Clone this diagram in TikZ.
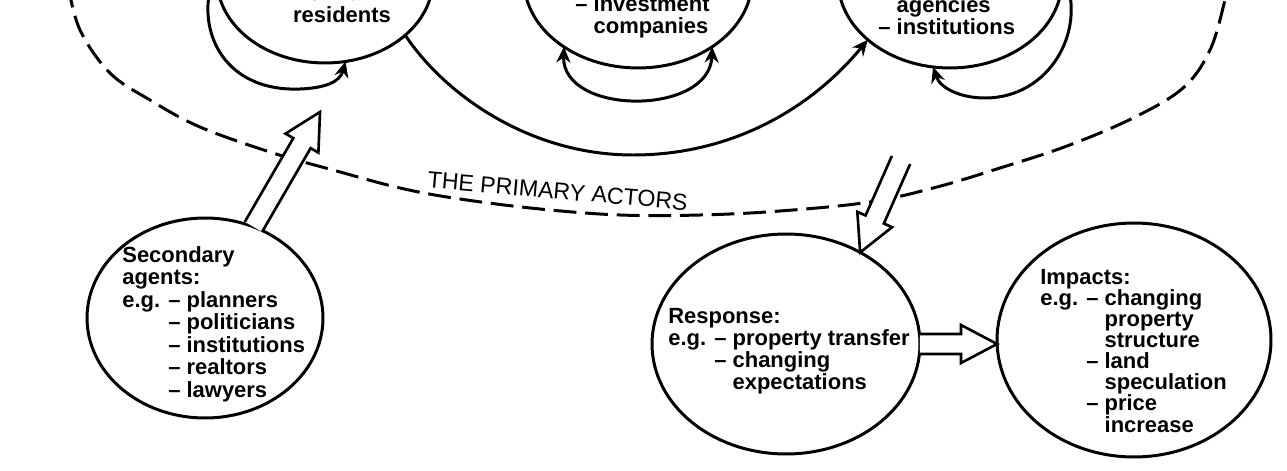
\documentclass[tikz,border=0pt]{standalone}
\usepackage{fontspec}
\setmainfont{Liberation Sans}
\usetikzlibrary{shapes.geometric,arrows.meta,calc}

\newcommand{\hollowarrow}[2]{%
    \coordinate (hb) at ($(#2)!0.72cm!(#1)$);
    \filldraw[hollowarr] ($(#1)!0.2cm!90:(#2)$) -- ($(hb)!0.2cm!90:(#2)$)
        -- ($(hb)!0.38cm!90:(#2)$) -- (#2) -- ($(hb)!0.38cm!-90:(#2)$)
        -- ($(hb)!0.2cm!-90:(#2)$) -- ($(#1)!0.2cm!-90:(#2)$);
}

\begin{document}
\begin{tikzpicture}[x=0.02cm, y=-0.02cm,
            actor/.style={draw, ellipse, line width=1.7pt, inner sep=0, outer sep=0},
            txt/.style={inner sep=0, align=left,
                font=\fontsize{12.5pt}{#1}\selectfont\bfseries},
            txt/.default=12.5pt,
            selfloop/.style={line width=1.7pt},
            hollowarr/.style={line width=1.5pt, fill=white, line join=miter},
            >={Stealth[length=9pt,width=8pt]}]
        \useasboundingbox (0,0) rectangle (1287,470);
        \clip (0,0) rectangle (1287,470);

        \node[actor, minimum width=4.32cm, minimum height=3.36cm] (res) at (325,-21) {};
        \node[actor, minimum width=4.56cm, minimum height=3.52cm] (inv) at (638,-20) {};
        \node[actor, minimum width=4.48cm, minimum height=3.52cm] (inst) at (950,-20) {};
        \node[txt, align=center, anchor=south] (res-t) at (342,23) {non-farm\\residents};
        \node[txt, anchor=south west] (inv-t) at (575,38) {– investment\\\phantom{– }companies};
        \node[txt, anchor=south west] (inst-t) at (878,35) {\phantom{– }agencies\\– institutions};

        \draw[selfloop, <->] (res.173) .. controls (194,25) and (220,92) .. (300,89)
            .. controls (325,88) and (340,82) .. (res.-76);
        \draw[selfloop, <->] (inv.222) .. controls (562,116) and (710,116) .. (inv.318);
        \draw[selfloop, <->] (inst.6) .. controls (1087,30) and (1050,98) .. (985,98)
            .. controls (960,98) and (940,88) .. (inst.259);
        \draw[selfloop, ->] (res.-35) .. controls (445,95) and (530,155) .. (633,155)
            .. controls (730,155) and (810,110) .. (inst.216);

        \draw[line width=1.7pt, dash pattern=on 13pt off 5pt] plot[smooth, tension=0.6]
            coordinates {(68,-15) (80,30) (110,73) (150,100) (200,127) (273,153) (333,170)
            (400,188) (460,199) (540,209) (620,215) (700,215) (780,211) (870,202) (937,187)
            (1000,168) (1067,146) (1133,118) (1183,88) (1210,50) (1225,0) (1228,-15)};
        \node[inner sep=0, font=\fontsize{13.2pt}{13.2pt}\selectfont, rotate=-5, anchor=base]
            (prim) at (557,199) {THE PRIMARY ACTORS};

        \node[actor, minimum width=4.72cm, minimum height=4cm] (sec) at (205,318) {};
        \node[actor, minimum width=5.36cm, minimum height=4.4cm] (resp) at (786,344) {};
        \node[actor, minimum width=5.48cm, minimum height=4.68cm] (imp) at (1134,340) {};

        \node[txt=12.8pt, anchor=north west] (sec-t) at (122,246)
            {Secondary\\agents:\\e.g. – planners\\\phantom{e.g. }– politicians\\
             \phantom{e.g. }– institutions\\\phantom{e.g. }– realtors\\\phantom{e.g. }– lawyers};
        \node[txt, anchor=north west] (resp-t) at (668,308)
            {Response:\\e.g. – property transfer\\\phantom{e.g. }– changing\\
             \phantom{e.g. – }expectations};
        \node[txt=12pt, anchor=north west] (imp-t) at (1040,269)
            {Impacts:\\e.g. – changing\\\phantom{e.g. – }property\\\phantom{e.g. – }structure\\
             \phantom{e.g. }– land\\\phantom{e.g. – }speculation\\\phantom{e.g. }– price\\
             \phantom{e.g. – }increase};

        \coordinate (sec-tip) at (320,112);
        \hollowarrow{sec.62}{sec-tip}
        \coordinate (prim-out) at (901,160);
        \hollowarrow{prim-out}{resp.51}
        \coordinate (imp-in) at (imp.west |- resp.east);
        \hollowarrow{resp.east}{imp-in}
    \end{tikzpicture}
\end{document}
